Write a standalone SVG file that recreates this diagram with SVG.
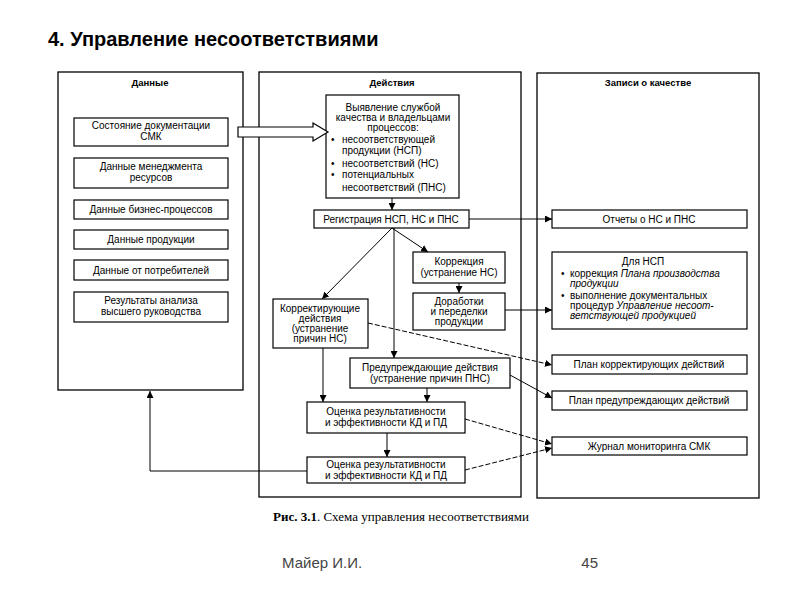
<svg xmlns="http://www.w3.org/2000/svg" width="800" height="600" viewBox="0 0 800 600">
<defs>
<style>
text{font-family:"Liberation Sans",Arial,sans-serif;fill:#000}
.t{font-size:10px;text-anchor:middle}
.l{font-size:10px}
.h{font-size:9.5px;font-weight:bold;text-anchor:middle}
.i{font-style:italic}
.b{fill:#fff;stroke:#000;stroke-width:1.2}
.p{fill:none;stroke:#000;stroke-width:1.3}
.c{fill:none;stroke:#000;stroke-width:1}
.d{fill:none;stroke:#000;stroke-width:1;stroke-dasharray:5 2}
</style>
<marker id="a" viewBox="0 0 10 10" refX="10" refY="5" markerWidth="7" markerHeight="7" orient="auto" markerUnits="userSpaceOnUse"><path d="M0,0 L10,5 L0,10 z" fill="#000"/></marker>
</defs>
<rect width="800" height="600" fill="#fff"/>
<text x="48" y="46" style="font-size:20px;font-weight:bold">4. Управление несоответствиями</text>

<g id="panel-data"><rect class="p" x="58" y="72" width="185" height="318"/><text class="h" x="150" y="86">Данные</text></g>
<g id="panel-actions"><rect class="p" x="259" y="72" width="262" height="425"/><text class="h" x="392" y="86">Действия</text></g>
<g id="panel-records"><rect class="p" x="537" y="73" width="222" height="425"/><text class="h" x="648" y="86">Записи о качестве</text></g>

<g id="n-doc"><rect class="b" x="74" y="118" width="154" height="28"/><text class="t" x="151" y="129">Состояние документации</text><text class="t" x="151" y="140">СМК</text></g>
<g id="n-res"><rect class="b" x="74" y="158" width="154" height="30"/><text class="t" x="151" y="170">Данные менеджмента</text><text class="t" x="151" y="181">ресурсов</text></g>
<g id="n-bp"><rect class="b" x="74" y="200" width="154" height="19"/><text class="t" x="151" y="213">Данные бизнес-процессов</text></g>
<g id="n-prod"><rect class="b" x="74" y="230" width="154" height="19"/><text class="t" x="151" y="243">Данные продукции</text></g>
<g id="n-cust"><rect class="b" x="74" y="260" width="154" height="20"/><text class="t" x="151" y="273.5">Данные от потребителей</text></g>
<g id="n-mgmt"><rect class="b" x="74" y="292" width="154" height="30"/><text class="t" x="151" y="304">Результаты анализа</text><text class="t" x="151" y="315">высшего руководства</text></g>

<g id="n-detect"><rect class="b" x="326" y="95" width="133" height="103"/>
<text class="t" x="393" y="111">Выявление службой</text>
<text class="t" x="393" y="121">качества и владельцами</text>
<text class="t" x="393" y="131">процессов:</text>
<text class="l" x="331" y="143">•</text><text class="l" x="342" y="143">несоответствующей</text>
<text class="l" x="342" y="154">продукции (НСП)</text>
<text class="l" x="331" y="167">•</text><text class="l" x="342" y="167">несоответствий (НС)</text>
<text class="l" x="331" y="178">•</text><text class="l" x="342" y="178">потенциальных</text>
<text class="l" x="342" y="191">несоответствий (ПНС)</text></g>

<g id="n-reg"><rect class="b" x="314" y="210" width="155" height="18"/><text class="t" x="391" y="222.5">Регистрация НСП, НС и ПНС</text></g>
<g id="n-corr"><rect class="b" x="413" y="252" width="92" height="31"/><text class="t" x="459" y="265">Коррекция</text><text class="t" x="459" y="276">(устранение НС)</text></g>
<g id="n-rework"><rect class="b" x="413" y="293" width="92" height="37"/><text class="t" x="459" y="305">Доработки</text><text class="t" x="459" y="315">и переделки</text><text class="t" x="459" y="325">продукции</text></g>
<g id="n-ca"><rect class="b" x="273" y="299" width="95" height="49"/><text class="t" x="320" y="312">Корректирующие</text><text class="t" x="320" y="322">действия</text><text class="t" x="320" y="332">(устранение</text><text class="t" x="320" y="342">причин НС)</text></g>
<g id="n-pa"><rect class="b" x="350" y="358" width="160" height="30"/><text class="t" x="430" y="371">Предупреждающие действия</text><text class="t" x="430" y="382">(устранение причин ПНС)</text></g>
<g id="n-eval1"><rect class="b" x="307" y="402" width="158" height="31"/><text class="t" x="386" y="415">Оценка результативности</text><text class="t" x="386" y="426">и эффективности КД и ПД</text></g>
<g id="n-eval2"><rect class="b" x="307" y="457" width="158" height="26"/><text class="t" x="386" y="468">Оценка результативности</text><text class="t" x="386" y="479">и эффективности КД и ПД</text></g>

<g id="n-reports"><rect class="b" x="552" y="210" width="195" height="18"/><text class="t" x="649" y="222.5">Отчеты о НС и ПНС</text></g>
<g id="n-nsp"><rect class="b" x="552" y="252" width="195" height="77"/>
<text class="t" x="643" y="265">Для НСП</text>
<text class="l" x="561" y="277">•</text><text class="l" x="570" y="277">коррекция <tspan class="i">Плана производства</tspan></text>
<text class="l i" x="570" y="287">продукции</text>
<text class="l" x="561" y="299">•</text><text class="l" x="570" y="299">выполнение документальных</text>
<text class="l" x="570" y="309">процедур <tspan class="i">Управление несоот-</tspan></text>
<text class="l i" x="570" y="319">ветствующей продукцией</text></g>
<g id="n-plan-ca"><rect class="b" x="552" y="355" width="195" height="19"/><text class="t" x="649" y="368">План корректирующих действий</text></g>
<g id="n-plan-pa"><rect class="b" x="552" y="391" width="195" height="19"/><text class="t" x="649" y="404">План предупреждающих действий</text></g>
<g id="n-journal"><rect class="b" x="552" y="437" width="195" height="18"/><text class="t" x="649" y="449.5">Журнал мониторинга СМК</text></g>

<g id="connectors">
<polygon class="b" points="238,127 313,127 313,123 328,132 313,141 313,137 238,137"/>
<line class="c" x1="392" y1="198" x2="392" y2="210" marker-end="url(#a)"/>
<line class="c" x1="469" y1="219" x2="552" y2="219" marker-end="url(#a)"/>
<line class="c" x1="392" y1="228" x2="322" y2="299" marker-end="url(#a)"/>
<line class="c" x1="392" y1="228" x2="428" y2="252" marker-end="url(#a)"/>
<line class="c" x1="394" y1="228" x2="394" y2="358" marker-end="url(#a)"/>
<line class="c" x1="459" y1="283" x2="459" y2="293" marker-end="url(#a)"/>
<line class="c" x1="505" y1="310" x2="552" y2="310" marker-end="url(#a)"/>
<line class="d" x1="368" y1="323" x2="552" y2="365" marker-end="url(#a)"/>
<line class="c" x1="510" y1="375" x2="552" y2="398" marker-end="url(#a)"/>
<line class="c" x1="323" y1="348" x2="323" y2="402" marker-end="url(#a)"/>
<line class="c" x1="427" y1="388" x2="427" y2="402" marker-end="url(#a)"/>
<line class="c" x1="387" y1="433" x2="387" y2="457" marker-end="url(#a)"/>
<line class="d" x1="465" y1="419" x2="552" y2="444" marker-end="url(#a)"/>
<line class="d" x1="465" y1="470" x2="552" y2="448" marker-end="url(#a)"/>
<polyline class="c" points="307,471 150,471 150,391" marker-end="url(#a)"/>
</g>

<text x="273" y="521" style="font-family:'Liberation Serif',serif;font-size:13px"><tspan font-weight="bold">Рис. 3.1</tspan>. Схема управления несоответствиями</text>
<text x="282" y="568" style="font-size:15px;fill:#444">Майер И.И.</text>
<text x="598" y="568" style="font-size:15px;fill:#444;text-anchor:end">45</text>
</svg>
